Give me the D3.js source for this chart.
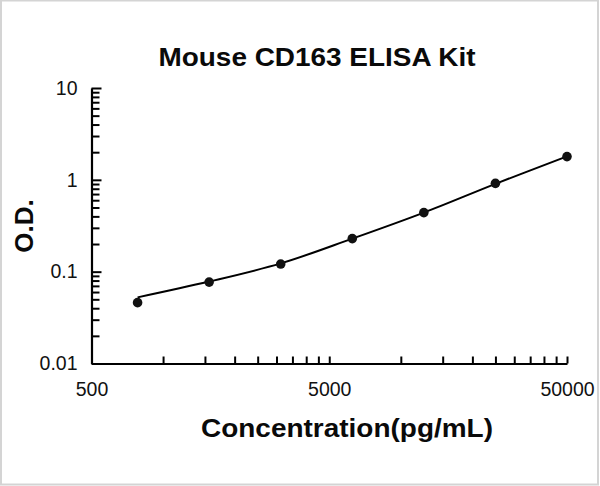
<!DOCTYPE html>
<html>
<head>
<meta charset="utf-8">
<script src="https://cdn.jsdelivr.net/npm/d3@7"></script>
<style>
  body { margin: 0; background: #fff; }
  svg { display: block; }
  .tick text { font-family: "Liberation Sans", Arial, sans-serif; font-size: 19.5px; fill: #111; }
  .lbl { font-family: "Liberation Sans", Arial, sans-serif; font-weight: bold; font-size: 26px; fill: #0a0a0a; }
</style>
</head>
<body>
<svg id="chart" width="600" height="486"></svg>
<script>
// standards (pg/mL) and measured O.D.
var conc = [781.25, 1562.5, 3125, 6250, 12500, 25000, 50000];
var od = [0.046, 0.077, 0.121, 0.229, 0.440, 0.916, 1.79];
// fitted curve values at the same concentrations
var fitOd = [0.0525, 0.078, 0.123, 0.229, 0.440, 0.905, 1.80];

var xTickLabels = [500, 5000, 50000];
var yTickLabels = [0.01, 0.1, 1, 10];

var width = 600, height = 486;
var svg = d3.select('#chart');

// light frame round the picture
svg.append('rect')
  .attr('x', 1).attr('y', 0.5)
  .attr('width', 597).attr('height', 484)
  .attr('fill', 'none')
  .attr('stroke', '#d4d4d4')
  .attr('stroke-width', 2);

var x = d3.scaleLog().domain([500, 50000]).range([91.5, 567]);
var y = d3.scaleLog().domain([0.01, 10]).range([363.5, 88]);

// excel style minor ticks: multiples of each decade start
var xTicks = [];
xTickLabels.slice(0, -1).forEach(function(base) {
  for (var k = 1; k < 10; k++) xTicks.push(base * k);
});
xTicks.push(xTickLabels[xTickLabels.length - 1]);

var yTicks = [];
yTickLabels.slice(0, -1).forEach(function(base) {
  for (var k = 1; k < 10; k++) yTicks.push(+(base * k).toPrecision(3));
});
yTicks.push(yTickLabels[yTickLabels.length - 1]);

var xAxis = d3.axisBottom(x)
  .tickValues(xTicks)
  .tickSizeInner(-7)
  .tickSizeOuter(0)
  .tickPadding(23)
  .tickFormat(function(d) { return xTickLabels.indexOf(d) >= 0 ? d : ''; });

var yAxis = d3.axisLeft(y)
  .tickValues(yTicks)
  .tickSizeInner(-8)
  .tickSizeOuter(0)
  .tickPadding(14)
  .tickFormat(function(d) { return yTickLabels.indexOf(d) >= 0 ? d : ''; });

var gx = svg.append('g')
  .attr('transform', 'translate(0,' + y.range()[0] + ')')
  .call(xAxis);
var gy = svg.append('g')
  .attr('transform', 'translate(' + x.range()[0] + ',0)')
  .call(yAxis);

[gx, gy].forEach(function(g) {
  g.select('.domain').attr('stroke', '#000').attr('stroke-width', 2.2);
  g.selectAll('.tick line').attr('stroke', '#000').attr('stroke-width', 2);
});
// major y ticks a little longer
gy.selectAll('.tick line')
  .attr('x2', function(d) { return yTickLabels.indexOf(d) >= 0 ? 10 : 8; });
gx.selectAll('.tick text').attr('dy', '0.5em');

// fitted curve
var line = d3.line()
  .x(function(d, i) { return x(conc[i]); })
  .y(function(d) { return y(d); })
  .curve(d3.curveCatmullRom);

svg.append('path')
  .datum(fitOd)
  .attr('d', line)
  .attr('fill', 'none')
  .attr('stroke', '#000')
  .attr('stroke-width', 2);

// measured points
svg.selectAll('circle.pt')
  .data(od)
  .enter().append('circle')
  .attr('class', 'pt')
  .attr('cx', function(d, i) { return x(conc[i]); })
  .attr('cy', function(d) { return y(d); })
  .attr('r', 4.8)
  .attr('fill', '#111');

// titles
svg.append('text')
  .attr('class', 'lbl')
  .attr('x', 317).attr('y', 65.5)
  .attr('text-anchor', 'middle')
  .attr('textLength', 317)
  .attr('lengthAdjust', 'spacingAndGlyphs')
  .text('Mouse CD163 ELISA Kit');

svg.append('text')
  .attr('class', 'lbl')
  .attr('x', 347).attr('y', 437)
  .attr('text-anchor', 'middle')
  .attr('textLength', 292)
  .attr('lengthAdjust', 'spacingAndGlyphs')
  .text('Concentration(pg/mL)');

svg.append('text')
  .attr('class', 'lbl')
  .attr('transform', 'translate(33,226) rotate(-90)')
  .attr('text-anchor', 'middle')
  .text('O.D.');
</script>
</body>
</html>
